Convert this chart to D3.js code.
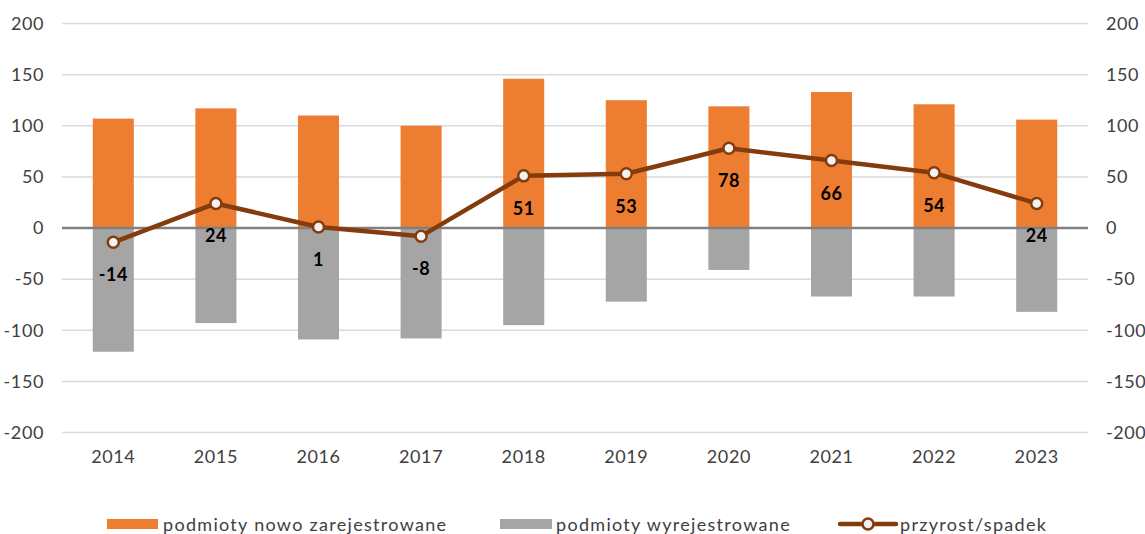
<!DOCTYPE html>
<html>
<head>
<meta charset="utf-8">
<script src="https://cdn.jsdelivr.net/npm/d3@7"></script>
<style>
  body { margin: 0; background: #fff; }
  text { font-family: "Century Gothic", Lato, "DejaVu Sans", sans-serif; fill: #404040; }
</style>
</head>
<body>
<div class="canvas"></div>
<script>
// DATA
const years = ["2014","2015","2016","2017","2018","2019","2020","2021","2022","2023"];
const registered = [107, 117, 110, 100, 146, 125, 119, 133, 121, 106];
const deregistered = [-121, -93, -109, -108, -95, -72, -41, -67, -67, -82];
const net = [-14, 24, 1, -8, 51, 53, 78, 66, 54, 24];
const yTicks = [-200, -150, -100, -50, 0, 50, 100, 150, 200];
const legendLabels = ["podmioty nowo zarejestrowane", "podmioty wyrejestrowane", "przyrost/spadek"];

// Dimensions
const margins = { top: 23.5, right: 57, bottom: 101.5, left: 62 };
const W = 1145, H = 534;
const width = W - margins.left - margins.right;
const height = H - margins.top - margins.bottom;

const svg = d3.select(".canvas").append("svg")
  .attr("width", W)
  .attr("height", H);

const canvas = svg.append("g")
  .attr("transform", `translate(${margins.left},${margins.top})`);

// SCALES
const xScale = d3.scaleBand()
  .domain(years)
  .range([0, width])
  .paddingInner(0.6)
  .paddingOuter(0.3);

const yScale = d3.scaleLinear()
  .domain([-200, 200])
  .range([height, 0]);

// GRID
canvas.append("g")
  .selectAll("line")
  .data(yTicks.filter(t => t !== 0))
  .enter().append("line")
  .attr("x1", 0).attr("x2", width)
  .attr("y1", d => yScale(d)).attr("y2", d => yScale(d))
  .attr("stroke", "#d9d9d9")
  .attr("stroke-width", 1.5);

// AXES
const fmt = d => String(d);
const leftAxis = canvas.append("g")
  .call(d3.axisLeft(yScale).tickValues(yTicks).tickFormat(fmt).tickSize(0).tickPadding(18));
const rightAxis = canvas.append("g")
  .attr("transform", `translate(${width},0)`)
  .call(d3.axisRight(yScale).tickValues(yTicks).tickFormat(fmt).tickSize(0).tickPadding(18));
const xAxis = canvas.append("g")
  .attr("transform", `translate(0,${height})`)
  .call(d3.axisBottom(xScale).tickSize(0).tickPadding(18));

[leftAxis, rightAxis, xAxis].forEach(a => {
  a.select(".domain").remove();
  a.selectAll("text")
    .style("font-size", "18px")
    .style("letter-spacing", "0.6px")
    .attr("fill", "#404040");
});

// BARS
canvas.append("g").selectAll("rect")
  .data(years)
  .enter().append("rect")
  .attr("x", d => xScale(d))
  .attr("width", xScale.bandwidth())
  .attr("y", (d, i) => yScale(registered[i]))
  .attr("height", (d, i) => yScale(0) - yScale(registered[i]))
  .attr("fill", "#ed7d31");

canvas.append("g").selectAll("rect")
  .data(years)
  .enter().append("rect")
  .attr("x", d => xScale(d))
  .attr("width", xScale.bandwidth())
  .attr("y", yScale(0))
  .attr("height", (d, i) => yScale(deregistered[i]) - yScale(0))
  .attr("fill", "#a5a5a5");

// zero line
canvas.append("line")
  .attr("x1", 0).attr("x2", width)
  .attr("y1", yScale(0)).attr("y2", yScale(0))
  .attr("stroke", "#808080")
  .attr("stroke-width", 2.5);

// LINE
const cx = d => xScale(d) + xScale.bandwidth() / 2;
const line = d3.line()
  .x(d => cx(d))
  .y((d, i) => yScale(net[i]));

canvas.append("path")
  .datum(years)
  .attr("d", line)
  .attr("fill", "none")
  .attr("stroke", "#843c0c")
  .attr("stroke-width", 4.5)
  .attr("stroke-linejoin", "round");

canvas.append("g").selectAll("circle")
  .data(years)
  .enter().append("circle")
  .attr("cx", d => cx(d))
  .attr("cy", (d, i) => yScale(net[i]))
  .attr("r", 5.5)
  .attr("fill", "#f2f2f2")
  .attr("stroke", "#843c0c")
  .attr("stroke-width", 2.5);

canvas.append("g").selectAll("text")
  .data(years)
  .enter().append("text")
  .attr("x", d => cx(d))
  .attr("y", (d, i) => yScale(net[i]) + 32)
  .attr("text-anchor", "middle")
  .attr("dominant-baseline", "central")
  .style("font-size", "18px")
  .style("font-weight", "bold")
  .style("letter-spacing", "0.5px")
  .style("fill", "#000")
  .text((d, i) => fmt(net[i]));

// LEGEND
const legend = svg.append("g").attr("transform", "translate(0,524)");

const legendText = (x, label) => legend.append("text")
  .attr("x", x).attr("y", 0)
  .attr("dominant-baseline", "central")
  .style("font-size", "18px")
  .style("letter-spacing", "1.3px")
  .text(label);

legend.append("rect").attr("x", 107).attr("y", -5).attr("width", 51).attr("height", 10).attr("fill", "#ed7d31");
legendText(163, legendLabels[0]);

legend.append("rect").attr("x", 500).attr("y", -5).attr("width", 52).attr("height", 10).attr("fill", "#a5a5a5");
legendText(556, legendLabels[1]);

legend.append("line").attr("x1", 840).attr("x2", 896).attr("y1", 0).attr("y2", 0)
  .attr("stroke", "#843c0c").attr("stroke-width", 4.5).attr("stroke-linecap", "round");
legend.append("circle").attr("cx", 868).attr("cy", 0).attr("r", 5.5)
  .attr("fill", "#f2f2f2").attr("stroke", "#843c0c").attr("stroke-width", 2.5);
legendText(900, legendLabels[2]);
</script>
</body>
</html>
